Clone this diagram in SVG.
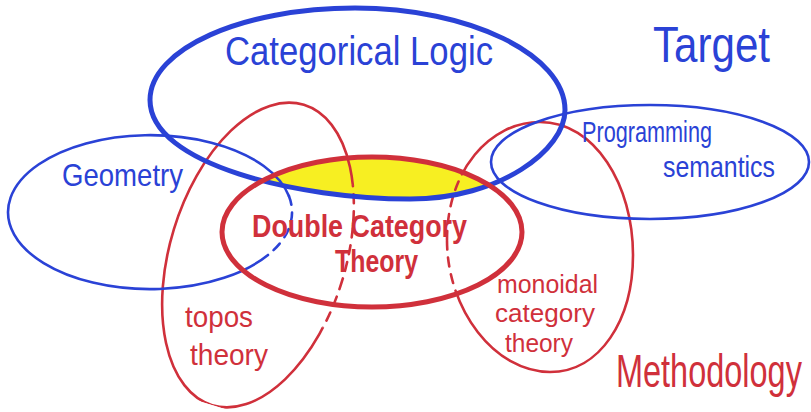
<svg xmlns="http://www.w3.org/2000/svg" width="811" height="412" viewBox="0 0 811 412">
<style>
.blue{fill:none;stroke:#2a42d6;stroke-linecap:round;stroke-linejoin:round}
.red{fill:none;stroke:#d0303b;stroke-linecap:round;stroke-linejoin:round}
.thick{stroke-width:5}
.thin{stroke-width:2.6}
.dash{stroke-dasharray:9 8}
text{font-family:"Liberation Sans",Arial,sans-serif}
.tb{fill:#2a42d6}
.tr{fill:#d0303b}
</style>
<defs>
<clipPath id="inCL"><path d="M150,100 C150,49 242,8 355,8 C470,8 565,55 565,110 C565,150 500,199 410,199 C300,199 150,165 150,100 Z"/></clipPath>
<clipPath id="inDCT"><ellipse cx="372" cy="232" rx="150" ry="75"/></clipPath>
<clipPath id="outDCT"><path clip-rule="evenodd" d="M0,0 H811 V412 H0 Z M222,232 A150,75 0 1,0 522,232 A150,75 0 1,0 222,232 Z"/></clipPath>
</defs>
<rect width="811" height="412" fill="#ffffff"/>

<!-- yellow overlap -->
<ellipse cx="372" cy="232" rx="150" ry="75" fill="#f7ef22" clip-path="url(#inCL)"/>

<g id="topos-theory">
<ellipse class="red thin" cx="258" cy="255" rx="88" ry="157" transform="rotate(17 258 255)" clip-path="url(#outDCT)"/>
<ellipse class="red thin dash" cx="258" cy="255" rx="88" ry="157" transform="rotate(17 258 255)" clip-path="url(#inDCT)"/>
<text class="tr" x="185" y="327" font-size="29" textLength="68" lengthAdjust="spacingAndGlyphs">topos</text>
<text class="tr" x="190" y="365" font-size="29" textLength="78" lengthAdjust="spacingAndGlyphs">theory</text>
</g>

<g id="monoidal-category-theory">
<path class="red thin" clip-path="url(#outDCT)" d="M447,240 C447,170 490,122 540,122 C595,122 633,185 633,255 C633,320 600,372 550,372 C495,372 447,310 447,240 Z"/>
<path class="red thin dash" clip-path="url(#inDCT)" d="M447,240 C447,170 490,122 540,122 C595,122 633,185 633,255 C633,320 600,372 550,372 C495,372 447,310 447,240 Z"/>
<text class="tr" x="497" y="293" font-size="25" textLength="101" lengthAdjust="spacingAndGlyphs">monoidal</text>
<text class="tr" x="495" y="322" font-size="25" textLength="100" lengthAdjust="spacingAndGlyphs">category</text>
<text class="tr" x="505" y="352" font-size="25" textLength="68" lengthAdjust="spacingAndGlyphs">theory</text>
</g>

<g id="geometry">
<path class="blue thin" d="M268,255 A142,77 0 1 1 288.9,196"/>
<path class="blue thin dash" d="M288.9,196 A142,77 0 0 1 268,255"/>
<text class="tb" x="62" y="186" font-size="32" textLength="121" lengthAdjust="spacingAndGlyphs">Geometry</text>
</g>

<g id="programming-semantics">
<ellipse class="blue thin" cx="650" cy="162" rx="159" ry="57"/>
<text class="tb" x="582" y="142" font-size="30" textLength="130" lengthAdjust="spacingAndGlyphs">Programming</text>
<text class="tb" x="663" y="177" font-size="30" textLength="112" lengthAdjust="spacingAndGlyphs">semantics</text>
</g>

<g id="categorical-logic">
<path class="blue thick" d="M150,100 C150,49 242,8 355,8 C470,8 565,55 565,110 C565,150 500,199 410,199 C300,199 150,165 150,100 Z"/>
<text class="tb" x="225" y="65" font-size="41" textLength="268" lengthAdjust="spacingAndGlyphs">Categorical Logic</text>
</g>

<g id="double-category-theory">
<ellipse class="red thick" cx="372" cy="232" rx="150" ry="75"/>
<text class="tr" x="252" y="237" font-size="31" font-weight="bold" textLength="215" lengthAdjust="spacingAndGlyphs">Double Category</text>
<text class="tr" x="335" y="272" font-size="31" font-weight="bold" textLength="83" lengthAdjust="spacingAndGlyphs">Theory</text>
</g>

<g id="target">
<text class="tb" x="653" y="62" font-size="50" textLength="117" lengthAdjust="spacingAndGlyphs">Target</text>
</g>

<g id="methodology">
<text class="tr" x="0" y="0" font-size="46" transform="translate(616 387) scale(0.706 1)">Methodology</text>
</g>

<g id="connectors"></g>
</svg>
